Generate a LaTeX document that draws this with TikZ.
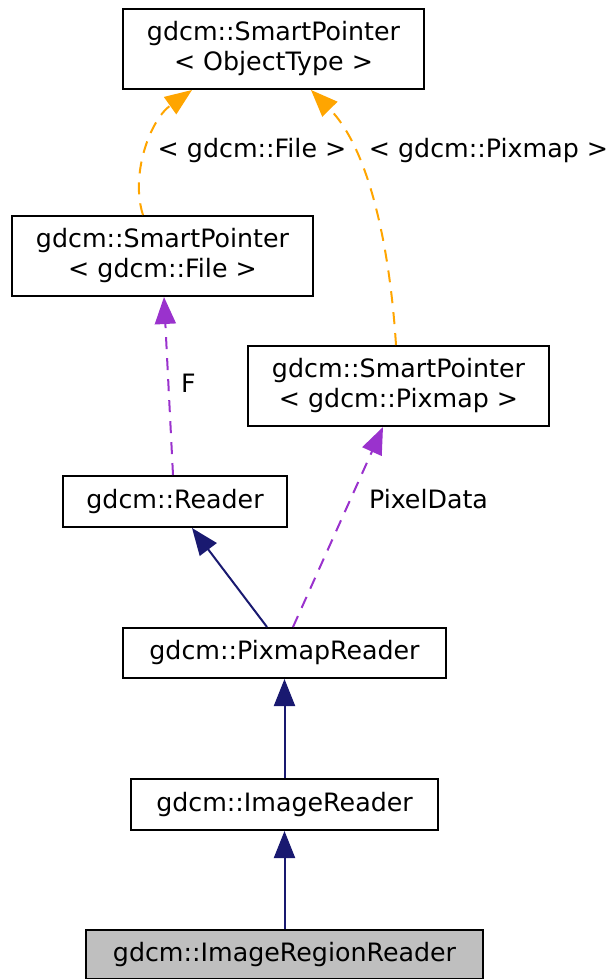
\documentclass[tikz,border=0pt]{standalone}
\usepackage{fontspec}
\setmainfont{DejaVu Sans}
\usetikzlibrary{arrows.meta,calc}
\definecolor{tmpl}{HTML}{FFA500}
\definecolor{member}{HTML}{9A32CD}
\definecolor{base}{HTML}{191970}
\definecolor{focus}{HTML}{BFBFBF}
\newcommand{\TwoH}{80pt}
\newcommand{\OneH}{51pt}

\begin{document}
\begin{tikzpicture}[x=1pt, y=-1pt, font=\fontsize{25.3}{30}\selectfont,
    cls/.style={draw=black, line width=2pt, fill=white, inner sep=0pt, align=center},
    self/.style={cls, fill=focus},
    tip/.style={-{Triangle[length=27pt, width=21pt]}, line width=2pt},
    inherit/.style={tip, draw=base},
    uses/.style={tip, draw=member, dash pattern=on 12pt off 9pt},
    instof/.style={tip, draw=tmpl, dash pattern=on 12pt off 9pt},
    lbl/.style={inner sep=0pt},
  ]
% --- Canvas ------------------------------------------------------------------------
\useasboundingbox (0,0) rectangle (613,979);

% --- Templates ---------------------------------------------------------------------
\node[cls, minimum width=301pt, minimum height=\TwoH] (objtype) at (273.5,49) {gdcm::SmartPointer\\< ObjectType >};
\node[cls, minimum width=301pt, minimum height=\TwoH] (spfile) at (162.5,256) {gdcm::SmartPointer\\< gdcm::File >};
\node[cls, minimum width=301pt, minimum height=\TwoH] (sppixmap) at (398.5,386) {gdcm::SmartPointer\\< gdcm::Pixmap >};

% --- Readers -----------------------------------------------------------------------
\node[cls, minimum width=224pt, minimum height=\OneH] (reader) at (175,501.5) {gdcm::Reader};
\node[cls, minimum width=323pt, minimum height=50pt] (pixreader) at (284.5,653) {gdcm::PixmapReader};
\node[cls, minimum width=307pt, minimum height=\OneH] (imgreader) at (284.5,804.5) {gdcm::ImageReader};
\node[self, minimum width=397pt, minimum height=49pt] (regreader) at (284.5,954.5) {gdcm::ImageRegionReader};

% --- Edges -------------------------------------------------------------------------
\draw[instof] ($(spfile.north)+(-19.5,0)$) .. controls (130,175) and (150,120) .. ($(objtype.south)+(-81.5,0)$);
\draw[instof] ($(sppixmap.north)+(-2.5,0)$) .. controls (390,250) and (370,150) .. ($(objtype.south)+(37.5,0)$);
\draw[uses] ($(reader.north)+(-2,0)$) -- ($(spfile.south)+(1.5,0)$);
\draw[uses] ($(pixreader.north)+(8.5,0)$) -- ($(sppixmap.south)+(-15.5,0)$);
\draw[inherit] ($(pixreader.north)+(-17.5,0)$) -- ($(reader.south)+(17,0)$);
\draw[inherit] (imgreader.north) -- (pixreader.south);
\draw[inherit] (regreader.north) -- (imgreader.south);

% --- Labels ------------------------------------------------------------------------
\node[lbl] (lfile) at (252,151) {< gdcm::File >};
\node[lbl] (lpixmap) at (488.5,151) {< gdcm::Pixmap >};
\node[lbl] (lf) at (188.5,383) {F};
\node[lbl] (lpixel) at (428.5,499) {PixelData};
\end{tikzpicture}
\end{document}
